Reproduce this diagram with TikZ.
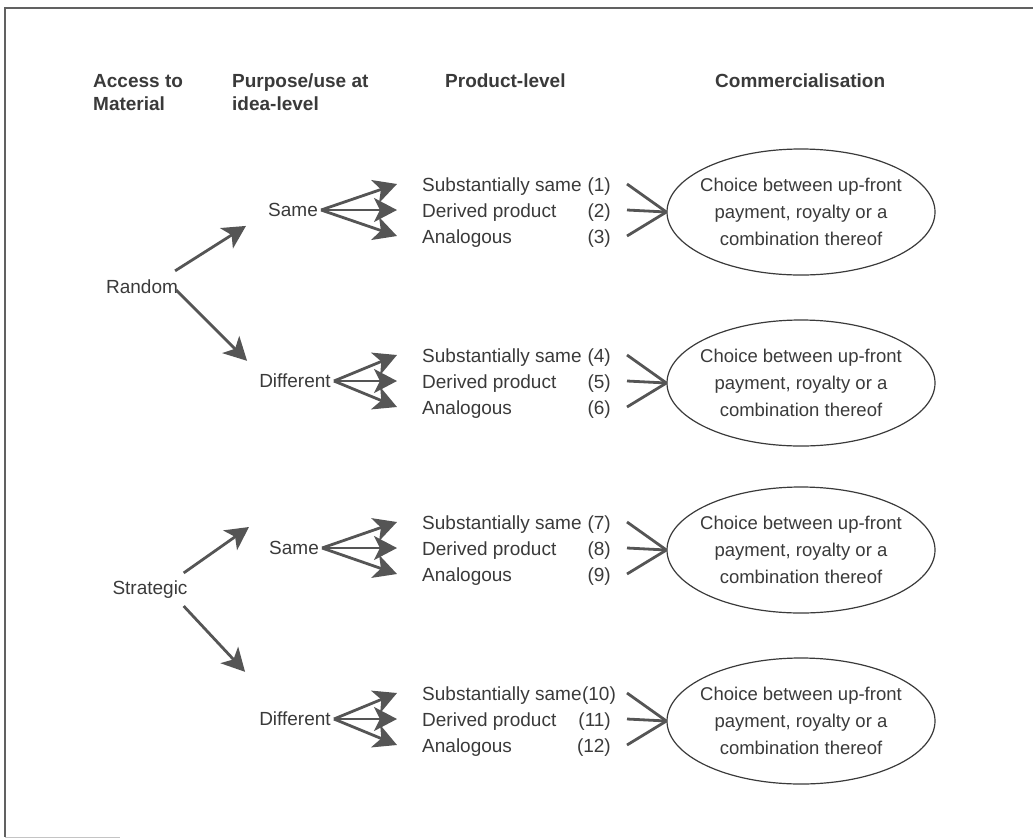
\documentclass[tikz,border=0pt]{standalone}
\usepackage{fontspec}
\setmainfont{Liberation Sans}
\usetikzlibrary{arrows.meta,shapes.geometric}
\definecolor{ink}{HTML}{3A3A3A}
\definecolor{arr}{HTML}{555555}
\begin{document}
\begin{tikzpicture}[x=1pt,y=-1pt,
  lbl/.style={font=\fontsize{19}{25}\selectfont,text=ink,inner sep=0pt},
  hdr/.style={font=\fontsize{19}{23}\selectfont\bfseries,text=ink,inner sep=0pt,align=left,anchor=base west},
  fan/.style={draw=arr,line width=2.8pt,-{Stealth[length=23pt,width=24pt,inset=6pt,fill=arr]}},
  link/.style={draw=arr,line width=2.8pt},
  choice/.style={ellipse,draw=ink,line width=1.2pt,minimum width=268pt,minimum height=126pt,inner xsep=-14pt,inner ysep=0pt,align=center,font=\fontsize{18.5}{27}\selectfont,text=ink}]
\useasboundingbox (0,0) rectangle (1033,839);
% frame
\draw[ink!80,line width=1.2pt] (1033,8) -- (5,8) -- (5,837);
\draw[ink!30,line width=1pt] (5,837) -- (120,837);
% headers
\node[hdr] (h1) at (93,110) {Access to\\Material};
\node[hdr] (h2) at (232,110) {Purpose/use at\\idea-level};
\node[hdr] (h3) at (445,87) {Product-level};
\node[hdr] (h4) at (715,87) {Commercialisation};
% first column
\node[lbl] (random) at (142,287) {Random};
\node[lbl] (strategic) at (150,590) {Strategic};
% groups
\foreach \g/\y/\w/\lx/\n in {1/210/Same/293/1, 2/381/Different/295/4, 3/548/Same/294/7, 4/719/Different/295/10}{
  \pgfmathtruncatemacro{\nb}{\n+1}
  \pgfmathtruncatemacro{\nc}{\n+2}
  \node[lbl] (w\g) at (\lx,\y) {\w};
  \node[lbl,anchor=base west] (pa\g) at (422,\y-19) {Substantially same};
  \node[lbl,anchor=base west] (pb\g) at (422,\y+7) {Derived product};
  \node[lbl,anchor=base west] (pc\g) at (422,\y+33) {Analogous};
  \ifnum\n=10
    \node[lbl,anchor=base west] (na\g) at (pa\g.base east) {(\n)};
  \else
    \node[lbl,anchor=base east] (na\g) at (611,\y-19) {(\n)};
  \fi
  \node[lbl,anchor=base east] (nb\g) at (611,\y+7) {(\nb)};
  \node[lbl,anchor=base east] (nc\g) at (611,\y+33) {(\nc)};
  \node[choice] (e\g) at (801,\y+2) {Choice between up-front\\payment, royalty or a\\combination thereof};
  \coordinate (ta\g) at (397,\y-26);
  \coordinate (tb\g) at (397,\y);
  \coordinate (tc\g) at (397,\y+26);
  \draw[fan] ([xshift=3pt]w\g.east) -- (ta\g);
  \draw[fan] ([xshift=3pt]w\g.east) -- (tb\g);
  \draw[fan] ([xshift=3pt]w\g.east) -- (tc\g);
  \coordinate (ca\g) at (627,\y-26);
  \coordinate (cb\g) at (627,\y);
  \coordinate (cc\g) at (627,\y+26);
  \draw[link] (ca\g) -- (e\g.west);
  \draw[link] (cb\g) -- (e\g.west);
  \draw[link] (cc\g) -- (e\g.west);
}
% access arrows
\draw[fan] ([shift={(-3,-9)}]random.north east) -- ([shift={(-22,9)}]w1.south west);
\draw[fan] ([shift={(-2,3)}]random.east) -- ([shift={(-12,-13)}]w2.north west);
\draw[fan] ([shift={(-4,-8)}]strategic.north east) -- ([shift={(-20,-21)}]w3.west);
\draw[fan] ([shift={(-4,7)}]strategic.south east) -- ([shift={(-14,-40)}]w4.north west);
\end{tikzpicture}
\end{document}
